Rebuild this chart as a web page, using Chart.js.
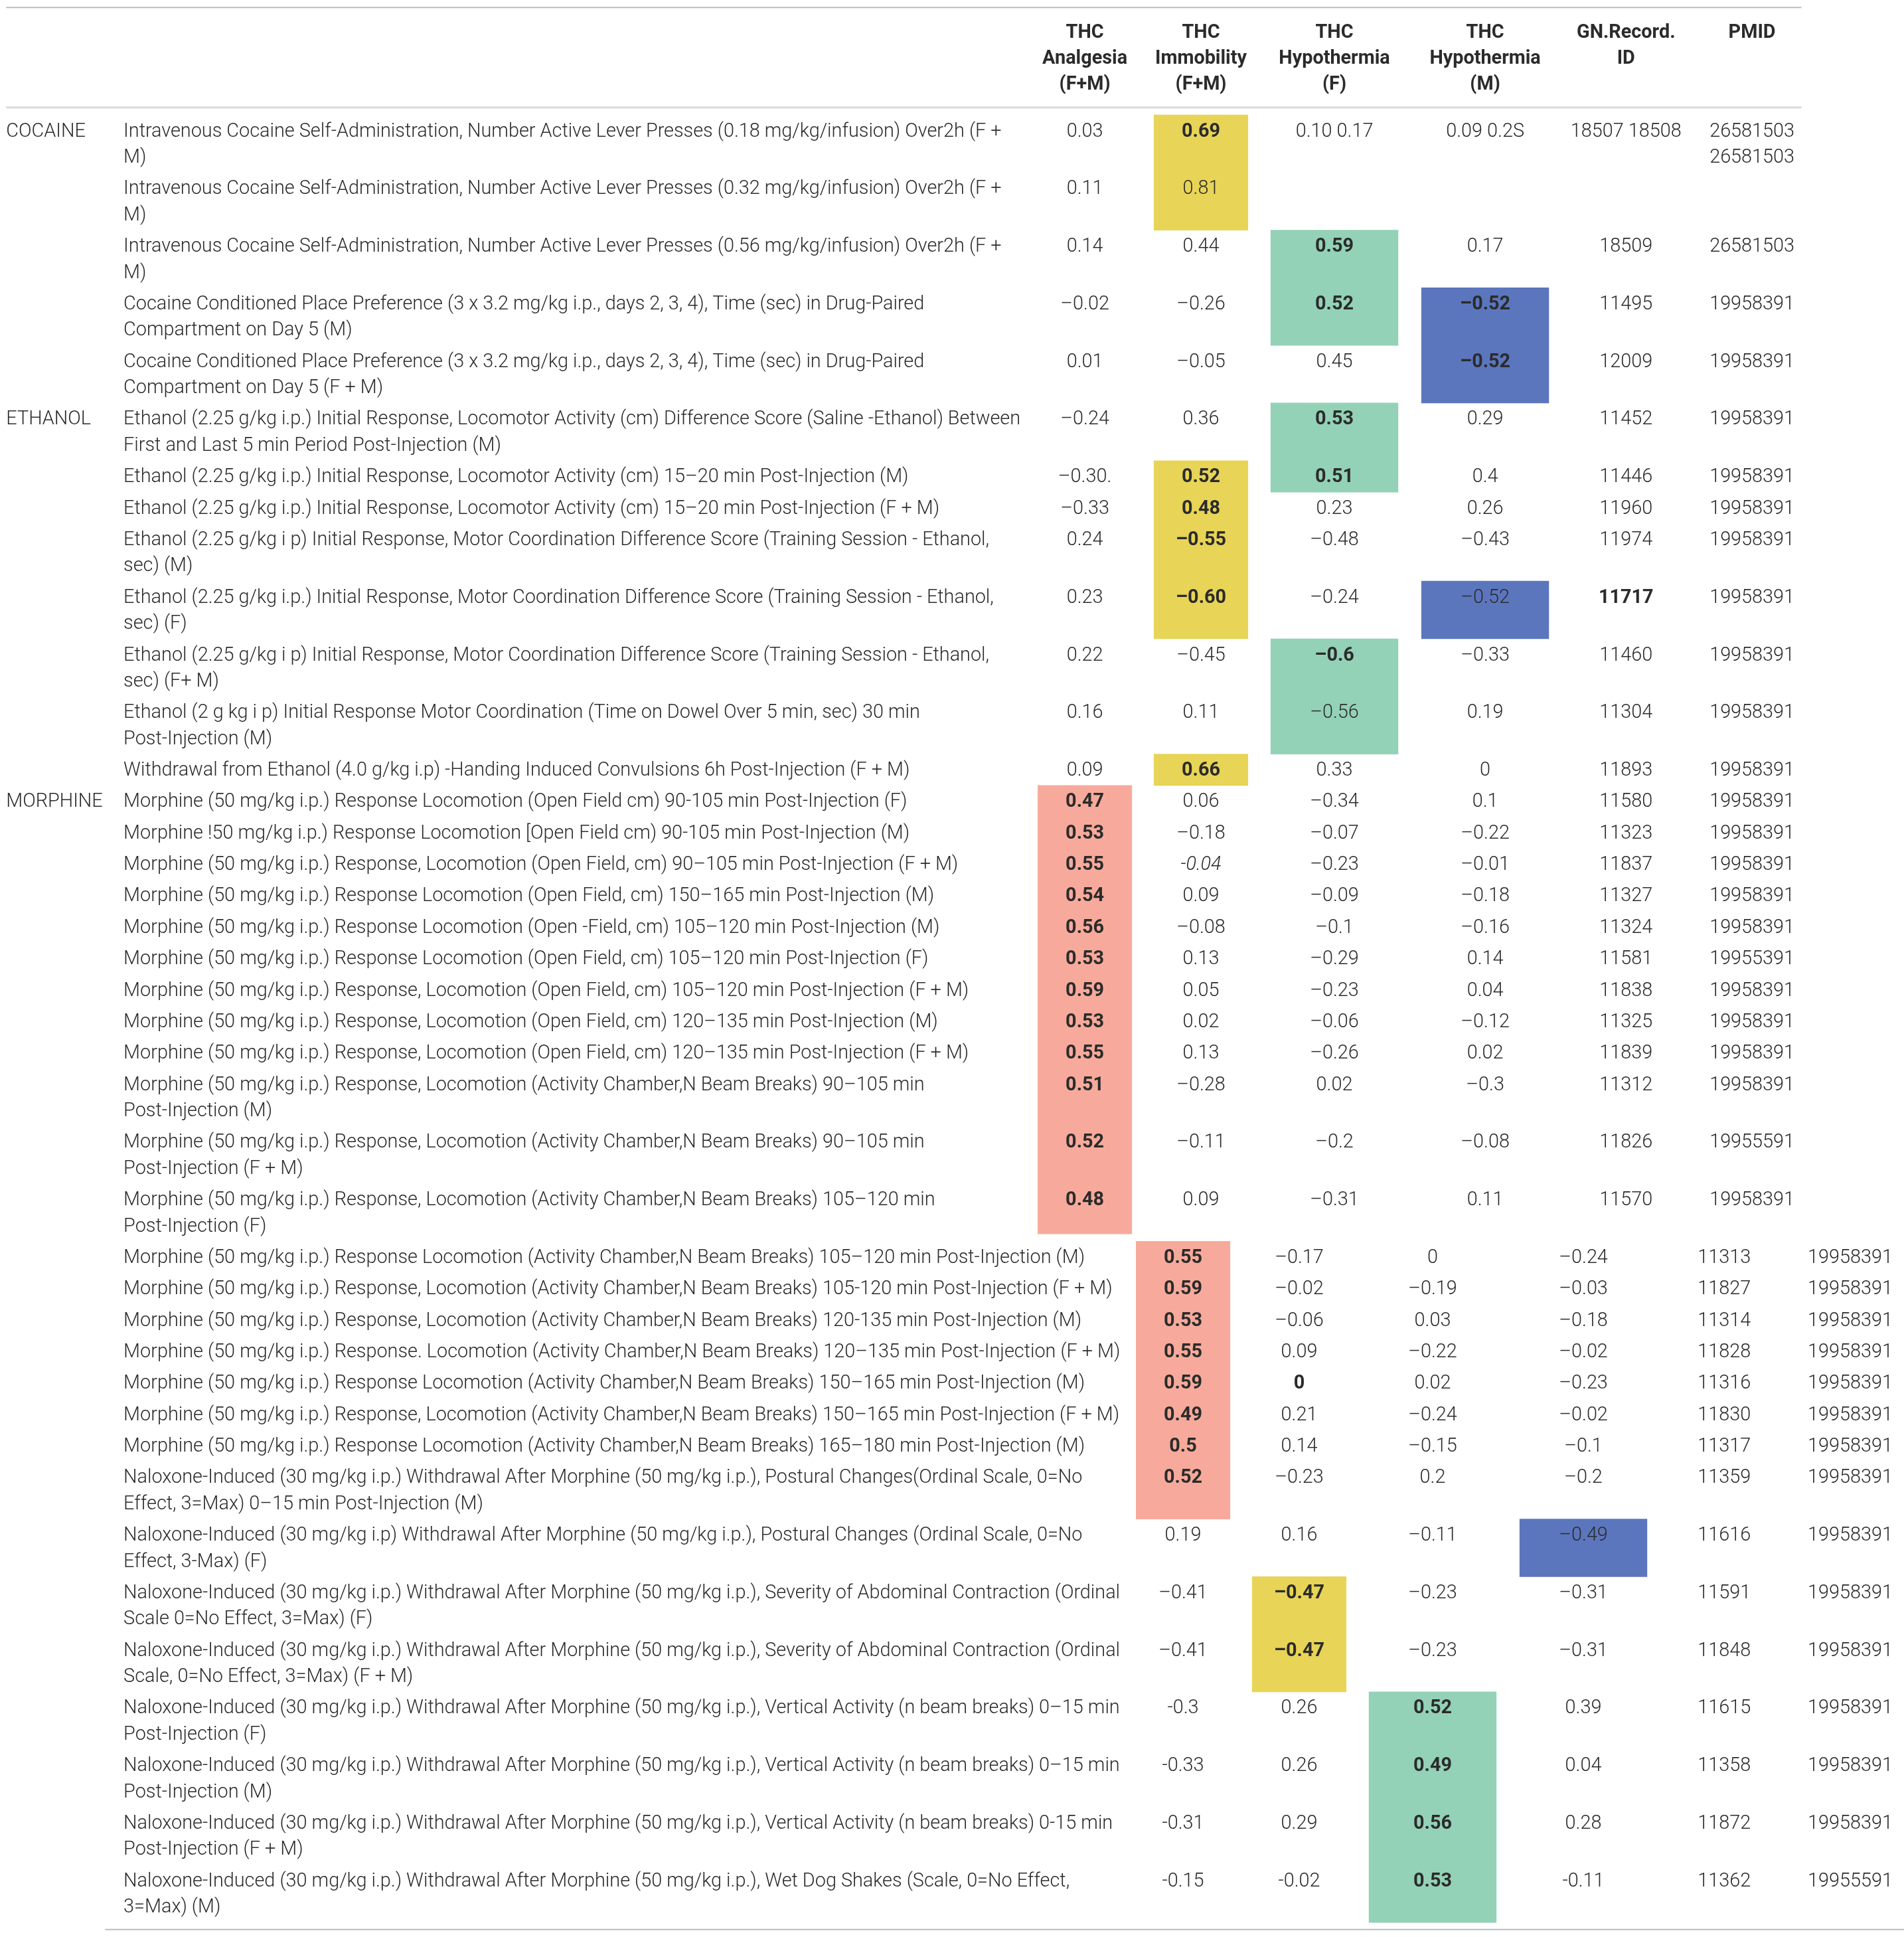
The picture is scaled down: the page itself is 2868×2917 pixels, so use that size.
<!DOCTYPE html>
<html>
<head>
<meta charset="utf-8">
<style>
  html, body { margin: 0; padding: 0; background: #ffffff; }
  #wrap { width: 2868px; height: 2917px; }
</style>
<script src="https://cdn.jsdelivr.net/npm/chart.js@4/dist/chart.umd.min.js"></script>
</head>
<body>
<div id="wrap"><canvas id="c" width="2868" height="2917"></canvas></div>
<script>
// ===================== DATA =====================
const columnHeaders = [
  "THC\nAnalgesia\n(F+M)",
  "THC\nImmobility\n(F+M)",
  "THC\nHypothermia\n(F)",
  "THC\nHypothermia\n(M)",
  "GN.Record.\nID",
  "PMID"
];

const drugClass = [
  "COCAINE","COCAINE","COCAINE","COCAINE","COCAINE",
  "ETHANOL","ETHANOL","ETHANOL","ETHANOL","ETHANOL","ETHANOL","ETHANOL","ETHANOL",
  "MORPHINE","MORPHINE","MORPHINE","MORPHINE","MORPHINE","MORPHINE","MORPHINE","MORPHINE","MORPHINE",
  "MORPHINE","MORPHINE","MORPHINE","MORPHINE","MORPHINE","MORPHINE","MORPHINE","MORPHINE","MORPHINE",
  "MORPHINE","MORPHINE","MORPHINE","MORPHINE","MORPHINE","MORPHINE","MORPHINE","MORPHINE","MORPHINE"
];

const phenotypes = [
  "Intravenous Cocaine Self-Administration, Number Active Lever Presses (0.18 mg/kg/infusion) Over2h (F +\nM)",
  "Intravenous Cocaine Self-Administration, Number Active Lever Presses (0.32 mg/kg/infusion) Over2h (F +\nM)",
  "Intravenous Cocaine Self-Administration, Number Active Lever Presses (0.56 mg/kg/infusion) Over2h (F +\nM)",
  "Cocaine Conditioned Place Preference (3 x 3.2 mg/kg i.p., days 2, 3, 4), Time (sec) in Drug-Paired\nCompartment on Day 5 (M)",
  "Cocaine Conditioned Place Preference (3 x 3.2 mg/kg i.p., days 2, 3, 4), Time (sec) in Drug-Paired\nCompartment on Day 5 (F + M)",
  "Ethanol (2.25 g/kg i.p.) Initial Response, Locomotor Activity (cm) Difference Score (Saline -Ethanol) Between\nFirst and Last 5 min Period Post-Injection (M)",
  "Ethanol (2.25 g/kg i.p.) Initial Response, Locomotor Activity (cm) 15\u201320 min Post-Injection (M)",
  "Ethanol (2.25 g/kg i.p.) Initial Response, Locomotor Activity (cm) 15\u201320 min Post-Injection (F + M)",
  "Ethanol (2.25 g/kg i p) Initial Response, Motor Coordination Difference Score (Training Session - Ethanol,\nsec) (M)",
  "Ethanol (2.25 g/kg i.p.) Initial Response, Motor Coordination Difference Score (Training Session - Ethanol,\nsec) (F)",
  "Ethanol (2.25 g/kg i p) Initial Response, Motor Coordination Difference Score (Training Session - Ethanol,\nsec) (F+ M)",
  "Ethanol (2 g kg i p) Initial Response Motor Coordination (Time on Dowel Over 5 min, sec) 30 min\nPost-Injection (M)",
  "Withdrawal from Ethanol (4.0 g/kg i.p) -Handing Induced Convulsions 6h Post-Injection (F + M)",
  "Morphine (50 mg/kg i.p.) Response Locomotion (Open Field cm) 90-105 min Post-Injection (F)",
  "Morphine !50 mg/kg i.p.) Response Locomotion [Open Field cm) 90-105 min Post-Injection (M)",
  "Morphine (50 mg/kg i.p.) Response, Locomotion (Open Field, cm) 90\u2013105 min Post-Injection (F + M)",
  "Morphine (50 mg/kg i.p.) Response Locomotion (Open Field, cm) 150\u2013165 min Post-Injection (M)",
  "Morphine (50 mg/kg i.p.) Response Locomotion (Open -Field, cm) 105\u2013120 min Post-Injection (M)",
  "Morphine (50 mg/kg i.p.) Response Locomotion (Open Field, cm) 105\u2013120 min Post-Injection (F)",
  "Morphine (50 mg/kg i.p.) Response, Locomotion (Open Field, cm) 105\u2013120 min Post-Injection (F + M)",
  "Morphine (50 mg/kg i.p.) Response, Locomotion (Open Field, cm) 120\u2013135 min Post-Injection (M)",
  "Morphine (50 mg/kg i.p.) Response, Locomotion (Open Field, cm) 120\u2013135 min Post-Injection (F + M)",
  "Morphine (50 mg/kg i.p.) Response, Locomotion (Activity Chamber,N Beam Breaks) 90\u2013105 min\nPost-Injection (M)",
  "Morphine (50 mg/kg i.p.) Response, Locomotion (Activity Chamber,N Beam Breaks) 90\u2013105 min\nPost-Injection (F + M)",
  "Morphine (50 mg/kg i.p.) Response, Locomotion (Activity Chamber,N Beam Breaks) 105\u2013120 min\nPost-Injection (F)",
  "Morphine (50 mg/kg i.p.) Response Locomotion (Activity Chamber,N Beam Breaks) 105\u2013120 min Post-Injection (M)",
  "Morphine (50 mg/kg i.p.) Response, Locomotion (Activity Chamber,N Beam Breaks) 105-120 min Post-Injection (F + M)",
  "Morphine (50 mg/kg i.p.) Response, Locomotion (Activity Chamber,N Beam Breaks) 120-135 min Post-Injection (M)",
  "Morphine (50 mg/kg i.p.) Response. Locomotion (Activity Chamber,N Beam Breaks) 120\u2013135 min Post-Injection (F + M)",
  "Morphine (50 mg/kg i.p.) Response Locomotion (Activity Chamber,N Beam Breaks) 150\u2013165 min Post-Injection (M)",
  "Morphine (50 mg/kg i.p.) Response, Locomotion (Activity Chamber,N Beam Breaks) 150\u2013165 min Post-Injection (F + M)",
  "Morphine (50 mg/kg i.p.) Response Locomotion (Activity Chamber,N Beam Breaks) 165\u2013180 min Post-Injection (M)",
  "Naloxone-Induced (30 mg/kg i.p.) Withdrawal After Morphine (50 mg/kg i.p.), Postural Changes(Ordinal Scale, 0=No\nEffect, 3=Max) 0\u201315 min Post-Injection (M)",
  "Naloxone-Induced (30 mg/kg i.p) Withdrawal After Morphine (50 mg/kg i.p.), Postural Changes (Ordinal Scale, 0=No\nEffect, 3-Max) (F)",
  "Naloxone-Induced (30 mg/kg i.p.) Withdrawal After Morphine (50 mg/kg i.p.), Severity of Abdominal Contraction (Ordinal\nScale 0=No Effect, 3=Max) (F)",
  "Naloxone-Induced (30 mg/kg i.p.) Withdrawal After Morphine (50 mg/kg i.p.), Severity of Abdominal Contraction (Ordinal\nScale, 0=No Effect, 3=Max) (F + M)",
  "Naloxone-Induced (30 mg/kg i.p.) Withdrawal After Morphine (50 mg/kg i.p.), Vertical Activity (n beam breaks) 0\u201315 min\nPost-Injection (F)",
  "Naloxone-Induced (30 mg/kg i.p.) Withdrawal After Morphine (50 mg/kg i.p.), Vertical Activity (n beam breaks) 0\u201315 min\nPost-Injection (M)",
  "Naloxone-Induced (30 mg/kg i.p.) Withdrawal After Morphine (50 mg/kg i.p.), Vertical Activity (n beam breaks) 0-15 min\nPost-Injection (F + M)",
  "Naloxone-Induced (30 mg/kg i.p.) Withdrawal After Morphine (50 mg/kg i.p.), Wet Dog Shakes (Scale, 0=No Effect,\n3=Max) (M)"
];

// cell texts; leading "*" = bold (significant), leading "_" = italic
const thcAnalgesia = ["0.03","0.11","0.14","\u20130.02","0.01","\u20130.24","\u20130.30.","\u20130.33","0.24","0.23","0.22","0.16","0.09",
  "*0.47","*0.53","*0.55","*0.54","*0.56","*0.53","*0.59","*0.53","*0.55","*0.51","*0.52","*0.48",
  "*0.55","*0.59","*0.53","*0.55","*0.59","*0.49","*0.5","*0.52","0.19","\u20130.41","\u20130.41","-0.3","-0.33","-0.31","-0.15"];
const thcImmobility = ["*0.69","0.81","0.44","\u20130.26","\u20130.05","0.36","*0.52","*0.48","*\u20130.55","*\u20130.60","\u20130.45","0.11","*0.66",
  "0.06","\u20130.18","_-0.04","0.09","\u20130.08","0.13","0.05","0.02","0.13","\u20130.28","\u20130.11","0.09",
  "\u20130.17","\u20130.02","\u20130.06","0.09","*0","0.21","0.14","\u20130.23","0.16","*\u20130.47","*\u20130.47","0.26","0.26","0.29","-0.02"];
const thcHypothermiaF = ["0.10 0.17","","*0.59","*0.52","0.45","*0.53","*0.51","0.23","\u20130.48","\u20130.24","*\u20130.6","\u20130.56","0.33",
  "\u20130.34","\u20130.07","\u20130.23","\u20130.09","\u20130.1","\u20130.29","\u20130.23","\u20130.06","\u20130.26","0.02","\u20130.2","\u20130.31",
  "0","\u20130.19","0.03","\u20130.22","0.02","\u20130.24","\u20130.15","0.2","\u20130.11","\u20130.23","\u20130.23","*0.52","*0.49","*0.56","*0.53"];
const thcHypothermiaM = ["0.09 0.2S","","0.17","*\u20130.52","*\u20130.52","0.29","0.4","0.26","\u20130.43","\u20130.52","\u20130.33","0.19","0",
  "0.1","\u20130.22","\u20130.01","\u20130.18","\u20130.16","0.14","0.04","\u20130.12","0.02","\u20130.3","\u20130.08","0.11",
  "\u20130.24","\u20130.03","\u20130.18","\u20130.02","\u20130.23","\u20130.02","\u20130.1","\u20130.2","\u20130.49","\u20130.31","\u20130.31","0.39","0.04","0.28","-0.11"];
const gnRecordId = ["18507 18508","","18509","11495","12009","11452","11446","11960","11974","*11717","11460","11304","11893",
  "11580","11323","11837","11327","11324","11581","11838","11325","11839","11312","11826","11570",
  "11313","11827","11314","11828","11316","11830","11317","11359","11616","11591","11848","11615","11358","11872","11362"];
const pmid = ["26581503\n26581503","","26581503","19958391","19958391","19958391","19958391","19958391","19958391","19958391","19958391","19958391","19958391",
  "19958391","19958391","19958391","19958391","19958391","19955391","19958391","19958391","19958391","19958391","19955591","19958391",
  "19958391","19958391","19958391","19958391","19958391","19958391","19958391","19958391","19958391","19958391","19958391","19958391","19958391","19958391","19955591"];

// highlighted (significant) cells: [column, firstRow, lastRow, tone]
const highlightedCells = [
  [1, 0, 1, "yellow"],
  [2, 2, 3, "green"],
  [3, 3, 4, "blue"],
  [2, 5, 6, "green"],
  [1, 6, 9, "yellow"],
  [3, 9, 9, "blue"],
  [2, 10, 11, "green"],
  [1, 12, 12, "yellow"],
  [0, 13, 24, "red"],
  [0, 25, 32, "red"],
  [3, 33, 33, "blue"],
  [1, 34, 35, "yellow"],
  [2, 36, 39, "green"]
];

// ===================== LAYOUT / STYLE =====================
const U = { w: 1541, h: 1568 };           // table units of the page
const L = {
  topRule: 6, headRule: 87, bottomRule: 1562,
  ruleX: [5, 1458], bottomRuleX: [85, 1550],
  headLineY: [25, 46, 67],
  firstRowTop: 93, lineH: 21.2, rowPad: 4.25, firstLine: 12,
  catX: 5, labelX: 100,
  colX: [878, 972, 1080, 1202, 1316, 1418],
  colW: [76, 76, 103, 103],
  lowerFrom: 25, lowerShift: 79.5, sectionGap: 6,
  fitRefs: [[5, 0, 723], [26, 0, 804]]      // [row, line, width in units]
};
const S = {
  font: "Roboto, 'Liberation Sans', Arial, sans-serif",
  light: 300, bold: 700,
  text: "#2b2b2b",
  tones: { yellow: "#E8D456", green: "#93D2B7", blue: "#5B76BD", red: "#F7AA9B" },
  topRule: "#bdbdbd", headRule: "#dcdcdc", bottomRule: "#bdbdbd"
};

const valueColumns = [thcAnalgesia, thcImmobility, thcHypothermiaF, thcHypothermiaM, gnRecordId, pmid];

// row geometry derived from the number of text lines in each row
const rowLines = phenotypes.map((p, i) =>
  Math.max(p.split("\n").length, ...valueColumns.map(c => c[i].split("\n").length)));
const rowTop = [];
rowLines.reduce((t, n, i) => { rowTop[i] = t; return t + L.rowPad + L.lineH * n; }, L.firstRowTop);
const rowBottom = rowLines.map((n, i) => rowTop[i] + L.rowPad + L.lineH * n);
const colShift = r => (r >= L.lowerFrom ? L.lowerShift : 0);

function spanData(cols) {
  return highlightedCells.filter(h => cols.includes(h[0])).map(([c, r0, r1, tone]) => ({
    x: L.colX[c] + colShift(r0),
    y: [rowTop[r0], rowBottom[r1] - (r1 === L.lowerFrom - 1 ? L.sectionGap : 0)],
    tone
  }));
}
const thickness = w => ctx => {
  const s = ctx.chart.scales.x;
  return s.getPixelForValue(w) - s.getPixelForValue(0);
};

// ===================== TEXT PLUGIN =====================
const tablePlugin = {
  id: "tableText",
  afterDatasetsDraw(chart) {
    const { ctx, scales: { x, y } } = chart;
    const px = v => x.getPixelForValue(v);
    const py = v => y.getPixelForValue(v);
    const ux = px(1) - px(0);

    // font size fitted to the reference line widths
    ctx.save();
    ctx.font = `${S.light} 100px ${S.font}`;
    let acc = 0;
    L.fitRefs.forEach(([r, l, w]) => { acc += (w * ux) / ctx.measureText(phenotypes[r].split("\n")[l]).width * 100; });
    const fs = acc / L.fitRefs.length;
    const fLight = `${S.light} ${fs}px ${S.font}`;
    const fBold = `${S.bold} ${fs}px ${S.font}`;
    const fItal = `italic ${S.light} ${fs}px ${S.font}`;
    const base = cy => py(cy) + fs * 0.355;

    // rules
    const rule = (yy, xr, col, wUnits) => {
      ctx.beginPath();
      ctx.strokeStyle = col;
      ctx.lineWidth = wUnits * ux;
      ctx.moveTo(px(xr[0]), py(yy));
      ctx.lineTo(px(xr[1]), py(yy));
      ctx.stroke();
    };
    rule(L.topRule, L.ruleX, S.topRule, 1.1);
    rule(L.headRule, L.ruleX, S.headRule, 1.8);
    rule(L.bottomRule, L.bottomRuleX, S.bottomRule, 1.1);

    ctx.fillStyle = S.text;
    ctx.textBaseline = "alphabetic";

    // headers
    ctx.font = fBold;
    ctx.textAlign = "center";
    columnHeaders.forEach((h, c) => {
      h.split("\n").forEach((t, k) => ctx.fillText(t, px(L.colX[c]), base(L.headLineY[k])));
    });

    // rows
    phenotypes.forEach((p, r) => {
      const y0 = rowTop[r] + L.firstLine;
      if (r === 0 || drugClass[r] !== drugClass[r - 1]) {
        ctx.font = fLight; ctx.textAlign = "left";
        ctx.fillText(drugClass[r], px(L.catX), base(y0));
      }
      ctx.font = fLight; ctx.textAlign = "left";
      p.split("\n").forEach((t, k) => ctx.fillText(t, px(L.labelX), base(y0 + k * L.lineH)));
      ctx.textAlign = "center";
      valueColumns.forEach((col, c) => {
        let v = col[r];
        if (!v) return;
        ctx.font = fLight;
        if (v[0] === "*") { ctx.font = fBold; v = v.slice(1); }
        else if (v[0] === "_") { ctx.font = fItal; v = v.slice(1); }
        v.split("\n").forEach((t, k) =>
          ctx.fillText(t, px(L.colX[c] + colShift(r)), base(y0 + k * L.lineH)));
      });
    });
    ctx.restore();
  }
};

// ===================== CHART =====================
new Chart(document.getElementById("c"), {
  type: "bar",
  data: {
    datasets: [
      { label: "narrow columns", data: spanData([0, 1]), barThickness: thickness(L.colW[0]),
        grouped: false, borderWidth: 0, backgroundColor: c => S.tones[c.raw.tone] },
      { label: "wide columns", data: spanData([2, 3]), barThickness: thickness(L.colW[2]),
        grouped: false, borderWidth: 0, backgroundColor: c => S.tones[c.raw.tone] }
    ]
  },
  options: {
    responsive: false,
    animation: false,
    events: [],
    devicePixelRatio: 1,
    layout: { padding: 0 },
    plugins: { legend: { display: false }, tooltip: { enabled: false }, title: { display: false } },
    scales: {
      x: { type: "linear", min: 0, max: U.w, display: false, offset: false },
      y: { type: "linear", min: 0, max: U.h, reverse: true, display: false, beginAtZero: false }
    }
  },
  plugins: [tablePlugin]
});
</script>
</body>
</html>
